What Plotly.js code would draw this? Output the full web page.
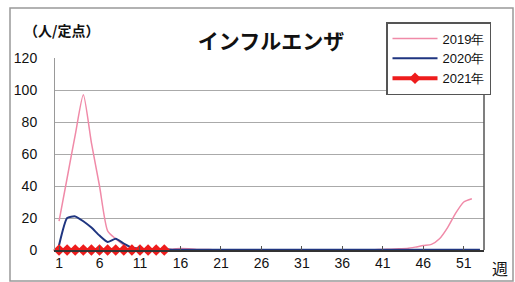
<!DOCTYPE html>
<html><head><meta charset="utf-8">
<script src="https://cdn.plot.ly/plotly-3.0.1.min.js"></script>
<style>body{margin:0;background:#fff}#c{width:515px;height:282px}</style>
</head><body><div id="c"></div>
<script>
const weeks = Array.from({length:53},(_,i)=>i+1);
const tickWeeks = [1,6,11,16,21,26,31,36,41,46,51];
const s2019 = [18,45,72,97,67,40,12,7,3,1.5,1,0.5,0.5,0.5,0.5,1,0.8,0.3,0.3,0.2,0.2,0.2,0.2,0.2,0.2,0.2,0.2,0.2,0.2,0.2,0.2,0.2,0.2,0.2,0.2,0.2,0.2,0.2,0.2,0.2,0.3,0.5,0.8,1,1.8,2.8,3.5,7,14,23,30,32];
const s2020 = [3,20,21,18,14,9,5,7,4,1.5,0.8,0.5,0.3,0.3,0.2,0.2,0.2,0.2,0.2,0.2,0.2,0.2,0.2,0.2,0.2,0.2,0.2,0.2,0.2,0.2,0.2,0.2,0.2,0.2,0.2,0.2,0.2,0.2,0.2,0.2,0.2,0.2,0.2,0.2,0.2,0.2,0.2,0.2,0.2,0.2,0.2,0.2,0.2];
const s2021 = [0,0,0,0,0,0,0,0,0,0,0,0,0,0];
const names = ['2019年','2020年','2021年'];
const font = "'Liberation Sans', Arial, sans-serif";
const traces = [
 {x:weeks.slice(0,s2019.length), y:s2019, name:names[0], mode:'lines', line:{color:'#f08aa8', width:1.5, shape:'spline', smoothing:0.6}},
 {x:weeks.slice(0,s2020.length), y:s2020, name:names[1], mode:'lines', line:{color:'#1f3580', width:2, shape:'spline', smoothing:0.5}},
 {x:weeks.slice(0,s2021.length), y:s2021, name:names[2], mode:'lines+markers', line:{color:'#ee1c1c', width:4}, marker:{symbol:'diamond', size:9, color:'#ee1c1c'}, cliponaxis:false}
];
const layout = {
 width:515, height:282,
 margin:{l:55, r:31, t:58, b:32, autoexpand:false},
 paper_bgcolor:'#fff', plot_bgcolor:'#fff',
 showlegend:true,
 legend:{x:386/515, y:1-22/282, xref:'container', yref:'container', xanchor:'left', yanchor:'top', bgcolor:'#fff', bordercolor:'#555', borderwidth:1.5, font:{family:font, size:13, color:'#111'}, tracegroupgap:0, itemwidth:45, entrywidth:115},
 title:{text:'<b>インフルエンザ</b>', x:271/515, xref:'container', y:1-42/282, yref:'container', xanchor:'center', yanchor:'middle', font:{family:"'Noto Sans CJK JP', sans-serif", size:21, color:'#111'}},
 xaxis:{range:[0.5,53.5], tickvals:tickWeeks, ticktext:tickWeeks.map(String), showgrid:false, zeroline:false, showline:true, linecolor:'#333', linewidth:1.5, ticks:'inside', ticklen:4, tickcolor:'#555', tickfont:{family:font, size:14, color:'#111'}, fixedrange:true},
 yaxis:{range:[0,120], dtick:20, showgrid:true, gridcolor:'#aaa', gridwidth:1, zeroline:false, showline:true, linecolor:'#999', linewidth:1, ticks:'', ticklabelstandoff:14, tickfont:{family:font, size:14, color:'#111'}, fixedrange:true},
 shapes:[
  {type:'line', xref:'paper', yref:'paper', x0:1, x1:1, y0:0, y1:(250-93)/192, line:{color:'#555', width:1.5}},
  {type:'rect', xref:'paper', yref:'paper', x0:(10-55)/429, x1:(513-55)/429, y0:-(281-250)/192, y1:1+(58-8)/192, line:{color:'#999', width:1.5}}
 ],
 annotations:[
  {text:'<b>（人/定点）</b>', xref:'paper', yref:'paper', x:(22-55)/429, y:1+(58-30)/192, xanchor:'left', yanchor:'middle', showarrow:false, font:{family:"'Noto Sans CJK JP', sans-serif", size:14, color:'#111'}},
  {text:'週', xref:'paper', yref:'paper', x:(500-55)/429, y:-(268-250)/192, xanchor:'center', yanchor:'middle', showarrow:false, font:{family:"'Noto Sans CJK JP', sans-serif", size:16, color:'#111'}}
 ]
};
Plotly.newPlot('c', traces, layout, {staticPlot:true, displayModeBar:false});
</script></body></html>
